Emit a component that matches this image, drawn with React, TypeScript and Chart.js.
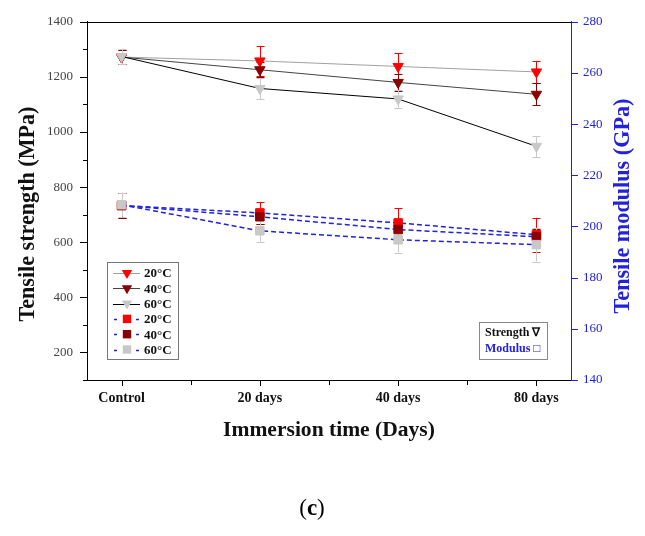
import React, { useEffect, useRef } from 'react';
import { Chart, registerables } from 'chart.js';

Chart.register(...registerables);

const categories = ['Control', '20 days', '40 days', '80 days'];
const tempLabels = ['20°C', '40°C', '60°C'];

const strength20 = [1272, 1258, 1238, 1218];
const strength20Err = [25, 55, 47, 40];
const strength40 = [1272, 1226, 1180, 1137];
const strength40Err = [25, 28, 32, 40];
const strength60 = [1274, 1158, 1120, 948];
const strength60Err = [28, 38, 32, 38];

const modulus20 = [208.2, 205.3, 201.4, 196.8];
const modulus20Err = [4.7, 4.3, 5.8, 6.6];
const modulus40 = [208.2, 203.8, 198.8, 196.0];
const modulus40Err = [4.7, 3.0, 3.0, 3.0];
const modulus60 = [208.5, 198.3, 194.8, 192.9];
const modulus60Err = [4.7, 4.3, 5.0, 6.6];

const strengthMin = 100;
const strengthMax = 1400;
const modulusMin = 140;
const modulusMax = 280;

const SERIF = '"Liberation Serif", "Times New Roman", serif';
const BLUE = '#2222dd';
const MARK_COLORS = ['#ff0000', '#8b0000', '#c8c8c8'];
const STRENGTH_LINE = ['#a0a0a0', '#444444', '#000000'];

function makeDs(vals: number[], errs: number[], label: string, axis: string, idx: number, kind: 'strength' | 'modulus') {
  const col = MARK_COLORS[idx];
  const isS = kind === 'strength';
  return {
    label,
    kind,
    data: vals.map((v, i) => ({ x: i, y: v })),
    errors: errs,
    yAxisID: axis,
    borderColor: isS ? STRENGTH_LINE[idx] : BLUE,
    borderWidth: isS ? 1 : 1.5,
    borderDash: isS ? [] : [5, 3],
    backgroundColor: col,
    pointBackgroundColor: col,
    pointBorderColor: col,
    pointBorderWidth: 1,
    pointStyle: isS ? 'triangle' : 'rect',
    pointRotation: isS ? 180 : 0,
    pointRadius: 6,
    fill: false,
    tension: 0,
    order: 3 - idx,
  };
}

function drawMarker(ctx: CanvasRenderingContext2D, kind: string, x: number, y: number, color: string) {
  ctx.save();
  ctx.fillStyle = color;
  ctx.beginPath();
  if (kind === 'strength') {
    const r = 6;
    ctx.moveTo(x, y + r);
    ctx.lineTo(x - r * 0.866, y - r * 0.5);
    ctx.lineTo(x + r * 0.866, y - r * 0.5);
    ctx.closePath();
  } else {
    const s = 4.2;
    ctx.rect(x - s, y - s, 2 * s, 2 * s);
  }
  ctx.fill();
  ctx.restore();
}

function fitText(ctx: CanvasRenderingContext2D, text: string, target: number, base: number) {
  ctx.font = `bold ${base}px ${SERIF}`;
  const w = ctx.measureText(text).width;
  const size = (base * target) / w;
  ctx.font = `bold ${size}px ${SERIF}`;
}

const errorBarPlugin = {
  id: 'errorBars',
  beforeDatasetsDraw(chart: any) {
    const ctx = chart.ctx;
    chart.data.datasets.forEach((ds: any, di: number) => {
      const meta = chart.getDatasetMeta(di);
      const ys = chart.scales[ds.yAxisID];
      ctx.save();
      ctx.strokeStyle = ds.pointBackgroundColor;
      ctx.lineWidth = 1;
      meta.data.forEach((pt: any, i: number) => {
        const v = ds.data[i].y;
        const e = ds.errors[i];
        const yt = ys.getPixelForValue(v + e);
        const yb = ys.getPixelForValue(v - e);
        const x = Math.round(pt.x) + 0.5;
        ctx.beginPath();
        ctx.moveTo(x, yt);
        ctx.lineTo(x, yb);
        ctx.moveTo(x - 4, Math.round(yt) + 0.5);
        ctx.lineTo(x + 4, Math.round(yt) + 0.5);
        ctx.moveTo(x - 4, Math.round(yb) + 0.5);
        ctx.lineTo(x + 4, Math.round(yb) + 0.5);
        ctx.stroke();
      });
      ctx.restore();
    });
  },
};

const decorPlugin = {
  id: 'decor',
  afterDraw(chart: any) {
    const ctx: CanvasRenderingContext2D = chart.ctx;
    const { left, right, top, bottom } = chart.chartArea;
    const yl = chart.scales.y;
    const yr = chart.scales.y2;
    const xs = chart.scales.x;
    ctx.save();
    ctx.strokeStyle = '#000';
    ctx.lineWidth = 1;
    ctx.beginPath();
    ctx.moveTo(left, Math.round(top) + 0.5);
    ctx.lineTo(right, Math.round(top) + 0.5);
    ctx.stroke();
    ctx.beginPath();
    yl.ticks.forEach((t: any) => {
      const y = Math.round(yl.getPixelForValue(t.value)) + 0.5;
      const major = t.value % 200 === 0;
      ctx.moveTo(left - (major ? 7 : 4), y);
      ctx.lineTo(left, y);
    });
    xs.ticks.forEach((t: any) => {
      const x = Math.round(xs.getPixelForValue(t.value)) + 0.5;
      const major = Number.isInteger(t.value);
      ctx.moveTo(x, bottom);
      ctx.lineTo(x, bottom + (major ? 6 : 5));
    });
    ctx.stroke();
    ctx.strokeStyle = BLUE;
    ctx.beginPath();
    yr.ticks.forEach((t: any) => {
      const y = Math.round(yr.getPixelForValue(t.value)) + 0.5;
      ctx.moveTo(right, y);
      ctx.lineTo(right + 7, y);
    });
    ctx.stroke();

    ctx.textAlign = 'center';
    ctx.textBaseline = 'middle';
    ctx.fillStyle = '#111';
    fitText(ctx, 'Immersion time (Days)', 212, 20);
    ctx.fillText('Immersion time (Days)', 329, 430);
    ctx.save();
    ctx.translate(28, 214);
    ctx.rotate(-Math.PI / 2);
    fitText(ctx, 'Tensile strength (MPa)', 215, 20);
    ctx.fillText('Tensile strength (MPa)', 0, 0);
    ctx.restore();
    ctx.save();
    ctx.fillStyle = BLUE;
    ctx.translate(623, 206);
    ctx.rotate(-Math.PI / 2);
    fitText(ctx, 'Tensile modulus (GPa)', 215, 20);
    ctx.fillText('Tensile modulus (GPa)', 0, 0);
    ctx.restore();

    ctx.fillStyle = '#000';
    ctx.textAlign = 'left';
    ctx.textBaseline = 'alphabetic';
    const fReg = `23px ${SERIF}`;
    const fBold = `bold 23px ${SERIF}`;
    ctx.font = fReg;
    const wp = ctx.measureText('(').width;
    ctx.font = fBold;
    const wc = ctx.measureText('c').width;
    let cx = 312 - (2 * wp + wc) / 2;
    const cy = 515;
    ctx.font = fReg;
    ctx.fillText('(', cx, cy);
    cx += wp;
    ctx.font = fBold;
    ctx.fillText('c', cx, cy);
    cx += wc;
    ctx.font = fReg;
    ctx.fillText(')', cx, cy);

    ctx.strokeStyle = '#777';
    ctx.lineWidth = 1;
    ctx.fillStyle = '#fff';
    ctx.fillRect(107.5, 262.5, 71, 97);
    ctx.strokeRect(107.5, 262.5, 71, 97);
    chart.data.datasets.forEach((ds: any, k: number) => {
      const y = 273 + k * 15.3;
      const yy = Math.round(y) + 0.5;
      ctx.save();
      ctx.strokeStyle = ds.borderColor;
      ctx.lineWidth = ds.kind === 'strength' ? 1 : 1.5;
      ctx.beginPath();
      if (ds.kind === 'strength') {
        ctx.moveTo(113, yy);
        ctx.lineTo(140, yy);
      } else {
        ctx.moveTo(114, yy);
        ctx.lineTo(117, yy);
        ctx.moveTo(136, yy);
        ctx.lineTo(139, yy);
      }
      ctx.stroke();
      ctx.restore();
      drawMarker(ctx, ds.kind, 127, y, ds.pointBackgroundColor);
      ctx.fillStyle = '#111';
      ctx.font = `bold 13px ${SERIF}`;
      ctx.textAlign = 'left';
      ctx.textBaseline = 'middle';
      ctx.fillText(ds.label, 144, y + 1);
    });

    ctx.strokeStyle = '#888';
    ctx.fillStyle = '#fff';
    ctx.fillRect(479.5, 322.5, 68, 37);
    ctx.strokeRect(479.5, 322.5, 68, 37);
    ctx.font = `bold 12px ${SERIF}`;
    ctx.textAlign = 'left';
    ctx.textBaseline = 'middle';
    ctx.fillStyle = '#111';
    ctx.fillText('Strength \u2207', 485, 333);
    ctx.fillStyle = BLUE;
    ctx.fillText('Modulus \u25A1', 485, 349);
    ctx.restore();
  },
};

export default function App() {
  const ref = useRef<HTMLCanvasElement | null>(null);
  useEffect(() => {
    if (!ref.current) return;
    const datasets: any[] = [
      makeDs(strength20, strength20Err, tempLabels[0], 'y', 0, 'strength'),
      makeDs(strength40, strength40Err, tempLabels[1], 'y', 1, 'strength'),
      makeDs(strength60, strength60Err, tempLabels[2], 'y', 2, 'strength'),
      makeDs(modulus20, modulus20Err, tempLabels[0], 'y2', 0, 'modulus'),
      makeDs(modulus40, modulus40Err, tempLabels[1], 'y2', 1, 'modulus'),
      makeDs(modulus60, modulus60Err, tempLabels[2], 'y2', 2, 'modulus'),
    ];
    const chart = new Chart(ref.current, {
      type: 'line',
      data: { datasets },
      plugins: [errorBarPlugin, decorPlugin],
      options: {
        animation: false,
        responsive: false,
        devicePixelRatio: 1,
        layout: { padding: { top: 20, left: 0, right: 0, bottom: 0 } },
        plugins: { legend: { display: false }, tooltip: { enabled: false } },
        scales: {
          x: {
            type: 'linear',
            position: 'bottom',
            min: -0.25,
            max: 3.25,
            bounds: 'data',
            afterBuildTicks: (s: any) => {
              s.ticks = [0, 0.5, 1, 1.5, 2, 2.5, 3].map((v) => ({ value: v }));
            },
            afterFit: (s: any) => {
              s.height = 156;
            },
            ticks: {
              autoSkip: false,
              maxRotation: 0,
              padding: 10,
              color: '#111',
              font: { family: SERIF, size: 14, weight: 'bold' },
              callback: (v: any) => (Number.isInteger(v) ? categories[v] : ''),
            },
            grid: { display: false, drawTicks: false },
            border: { display: true, color: '#000', width: 1 },
          },
          y: {
            type: 'linear',
            position: 'left',
            min: strengthMin,
            max: strengthMax,
            afterFit: (s: any) => {
              s.width = 87;
            },
            ticks: {
              stepSize: 100,
              autoSkip: false,
              padding: 14,
              color: '#444',
              font: { family: SERIF, size: 13 },
              callback: (v: any) => (v % 200 === 0 ? String(v) : ''),
            },
            grid: { display: false, drawTicks: false },
            border: { display: true, color: '#000', width: 1 },
          },
          y2: {
            type: 'linear',
            position: 'right',
            min: modulusMin,
            max: modulusMax,
            afterFit: (s: any) => {
              s.width = 74;
            },
            ticks: {
              stepSize: 20,
              autoSkip: false,
              padding: 12,
              color: BLUE,
              font: { family: SERIF, size: 13 },
            },
            grid: { display: false, drawTicks: false },
            border: { display: true, color: BLUE, width: 1 },
          },
        },
      } as any,
    });
    return () => chart.destroy();
  }, []);
  return (
    <div style={{ position: 'absolute', left: 0, top: 0, width: 645, height: 536, background: '#fff' }}>
      <canvas ref={ref} width={645} height={536} style={{ display: 'block' }} />
    </div>
  );
}
